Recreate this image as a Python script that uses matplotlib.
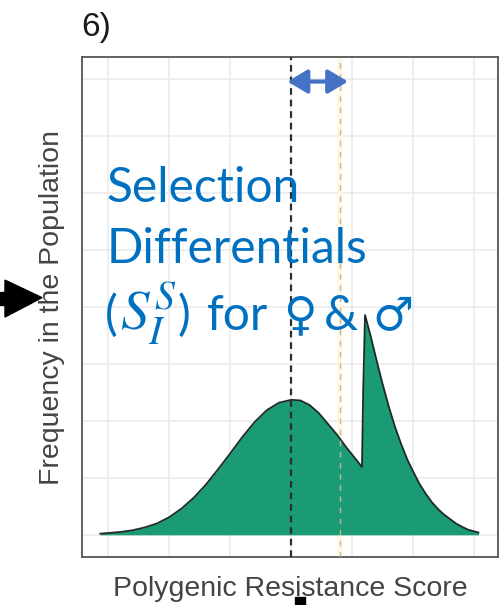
import matplotlib
matplotlib.use("Agg")
import matplotlib.pyplot as plt
from matplotlib.patches import Polygon, Rectangle

# density curve (score in SD units, frequency in grid units)
score = [-3.13, -2.8, -2.6, -2.4, -2.2, -2.0, -1.8, -1.6, -1.4, -1.2,
         -1.0, -0.8, -0.6, -0.4, -0.2, 0.0, 0.15, 0.3, 0.45, 0.6,
         0.75, 0.9, 1.05, 1.16, 1.18, 1.21, 1.3, 1.4, 1.5, 1.6,
         1.7, 1.8, 1.9, 2.0, 2.1, 2.2, 2.3, 2.4, 2.5, 2.6,
         2.7, 2.8, 2.9, 3.0, 3.07]
freq = [0.02, 0.05, 0.08, 0.13, 0.20, 0.31, 0.46, 0.65, 0.88, 1.15,
        1.43, 1.72, 1.98, 2.19, 2.32, 2.37, 2.36, 2.28, 2.14, 1.95,
        1.76, 1.54, 1.34, 1.19, 2.54, 3.86, 3.50, 3.06, 2.64, 2.25,
        1.90, 1.60, 1.33, 1.11, 0.90, 0.73, 0.58, 0.46, 0.36, 0.28,
        0.20, 0.14, 0.09, 0.06, 0.04]

mean_before = 0.0     # black dashed line
mean_after = 0.80     # pale yellow dashed line
x_grid = [-3, -2, -1, 0, 1, 2, 3]
y_grid = [0, 1, 2, 3, 4, 5, 6, 7, 8]

plt.rcParams['font.family'] = ['Liberation Sans', 'DejaVu Sans']
plt.rcParams['mathtext.fontset'] = 'stix'

W, H = 500, 605
fig = plt.figure(figsize=(5, 6.05), dpi=100)
ax = fig.add_axes([0.164, 0.0793, 0.832, 0.8264])
ax.set_xlim(-3.43, 3.39)
ax.set_ylim(-0.39, 8.39)

for g in x_grid:
    ax.axvline(g, color='#ebebeb', lw=1.2, zorder=0)
for g in y_grid:
    ax.axhline(g, color='#ebebeb', lw=1.2, zorder=0)

ax.fill_between(score, freq, 0, color='#1b9a76', lw=0, zorder=2)
ax.plot(score, freq, color='#1e2a25', lw=1.3, zorder=3)

ax.axvline(mean_before, color='#2d2d2d', lw=1.6, ls=(0, (3, 2.2)), zorder=4)
ax.axvline(mean_after, color='#fdf9e6', lw=4, zorder=1)
ax.axvline(mean_after, color='#c2b88e', lw=1.0, ls=(0, (4, 4)), zorder=4)

ax.annotate('', xy=(0.93, 7.96), xytext=(-0.06, 7.96),
            arrowprops=dict(arrowstyle='<|-|>,head_length=0.6,head_width=0.36',
                            mutation_scale=20, color='#4472c4', lw=3,
                            shrinkA=0, shrinkB=0),
            zorder=6)

ax.set_xticks([])
ax.set_yticks([])
for s in ax.spines.values():
    s.set_color('#555555')
    s.set_linewidth(1.3)

ax.set_xlabel('Polygenic Resistance Score', fontsize=20.5, color='#444444',
              labelpad=14)
ax.set_ylabel('Frequency in the Population', fontsize=20.5, color='#444444',
              labelpad=12)

fig.text(0.163, 0.954, '6)', fontsize=24, color='#1a1a1a', ha='left',
         va='center')

blue = '#0070c0'
fam = ['Lato', 'DejaVu Sans']
fig.text(0.213, 0.666, 'Selection', fontsize=34.5, color=blue, family=fam,
         va='baseline')
fig.text(0.213, 0.565, 'Differentials', fontsize=34.5, color=blue, family=fam,
         va='baseline')

# third line in pieces: (left pixel, text, size, family)
pieces = [
    (105, '(', 34.5, fam),
    (120, '$S_I^S$', 41, fam),
    (178, ')', 34.5, fam),
    (207, 'for', 34.5, fam),
    (283, '\u2640', 33, 'DejaVu Sans'),
    (324, '&', 34.5, fam),
    (372, '\u2642', 33, 'DejaVu Sans'),
]
for px, txt, size, f in pieces:
    fig.text(px / W, 0.455, txt, fontsize=size, color=blue, family=f,
             va='baseline')

# black pointer on the left and the small block at the bottom
fig.patches.append(Polygon([[0.010, 0.537], [0.084, 0.508], [0.010, 0.476]],
                           closed=True, transform=fig.transFigure,
                           color='black'))
fig.patches.append(Rectangle((0.0, 0.496), 0.012, 0.022,
                             transform=fig.transFigure, color='black'))
fig.patches.append(Rectangle((0.590, 0.0), 0.020, 0.013,
                             transform=fig.transFigure, color='black'))

fig.savefig('out.png', dpi=100)
